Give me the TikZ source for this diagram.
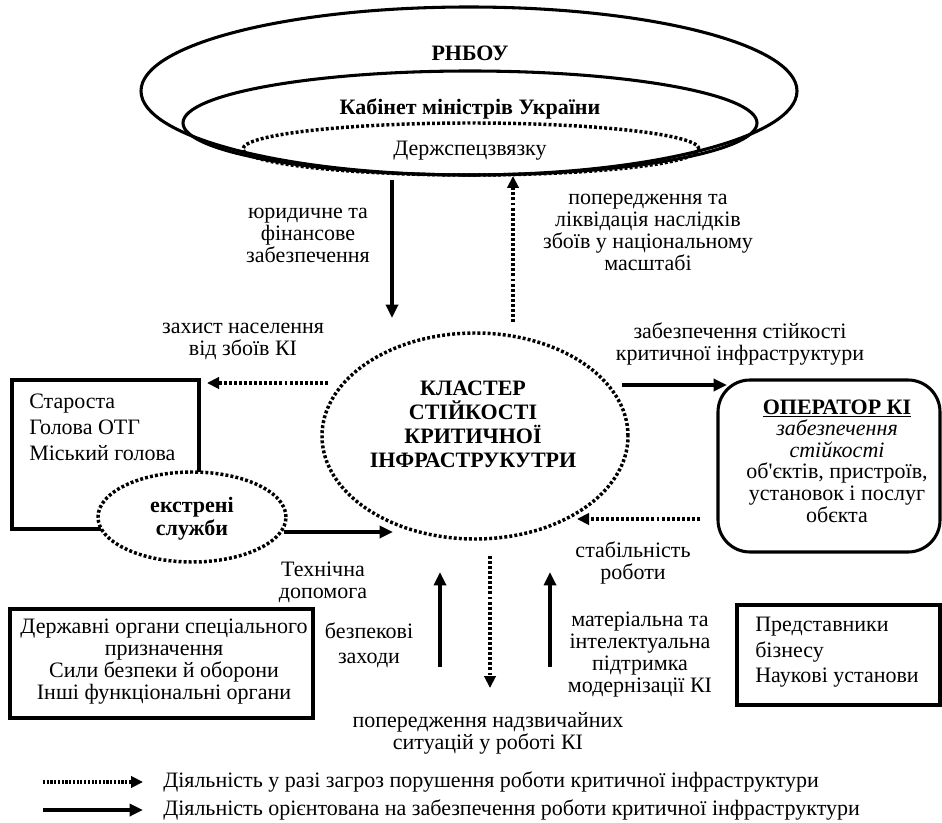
\documentclass[tikz,border=0pt]{standalone}
\usepackage{fontspec}
\setmainfont{Liberation Serif}
\usetikzlibrary{shapes.geometric,arrows.meta}
\tikzset{
  base/.style={font=\fontsize{16.5}{16.5}\selectfont, inner sep=0pt, align=center},
  bld/.style={base, font=\fontsize{16.5}{17}\selectfont\bfseries},
  lbl/.style={base},
  solidline/.style={line width=2.3pt},
  dotline/.style={line width=2.6pt, dash pattern=on 2.2pt off 1.6pt},
  ell/.style={ellipse, draw, inner sep=0pt},
  solidarrow/.style={line width=2.6pt, -{Triangle[length=10pt,width=9pt]}},
  dotarrow/.style={dotline, -{Triangle[length=9pt,width=8.5pt]}},
  boxnode/.style={rectangle, draw, line width=2.3pt, inner sep=0pt},
}
\begin{document}
\begin{tikzpicture}[x=0.75pt,y=-0.75pt]
\useasboundingbox (0,0) rectangle (942,823);
% top ellipses
\node[ell, solidline, minimum width=492pt, minimum height=126pt] (rnbo) at (469,91) {};
\node[ell, solidline, minimum width=430.5pt, minimum height=78pt] (kmu) at (470,123) {};
\node[ell, dotline, minimum width=342pt, minimum height=39pt] (dssz) at (471,149) {};
\node[bld] (trnbo) at (470,53) {РНБОУ};
\node[bld] (tkmu) at (470,109) {Кабінет міністрів України};
\node[base] (tdssz) at (470,151) {Держспецзвязку};

% cluster
\node[ell, dotline, minimum width=229.5pt, minimum height=154.5pt] (cl) at (475,436) {};
\node[bld, font=\fontsize{16.5}{18}\selectfont\bfseries] (tcl) at (473,424) {КЛАСТЕР\\СТІЙКОСТІ\\КРИТИЧНОЇ\\ІНФРАСТРУКУТРИ};

% left box + emergency services
\node[boxnode, minimum width=140.25pt, minimum height=111.75pt] (star) at (105.5,454.5) {};
\node[base, align=left, anchor=north west, font=\fontsize{16.5}{19.5}\selectfont] (tstar) at (29,394) {Староста\\Голова ОТГ\\Міський голова};
\node[ell, dotline, fill=white, minimum width=141pt, minimum height=67.5pt] (ekst) at (192,517) {};
\node[bld] (tekst) at (192,519) {екстрені\\служби};

% operator
\node[rectangle, draw, line width=2.3pt, rounded corners=24pt, minimum width=166.5pt, minimum height=129pt] (oper) at (829,466) {};
\node[base, font=\fontsize{16.5}{16.2}\selectfont] (toper) at (837,461) {{\bfseries\underline{ОПЕРАТОР КІ}}\\\textit{забезпечення}\\\textit{стійкості}\\об\textquotesingle єктів, пристроїв,\\установок і послуг\\обєкта};

% bottom boxes
\node[boxnode, minimum width=227.25pt, minimum height=81.75pt] (derj) at (161.5,663.5) {};
\node[base] (tderj) at (164,662) {Державні органи спеціального\\призначення\\Сили безпеки й оборони\\Інші функціональні органи};
\node[boxnode, minimum width=152.25pt, minimum height=75pt] (biz) at (838.5,655) {};
\node[base, align=left, anchor=north west, font=\fontsize{16.5}{19}\selectfont] (tbiz) at (755,617) {Представники\\бізнесу\\Наукові установи};

% labels
\node[lbl] (l1) at (308,235) {юридичне та\\фінансове\\забезпечення};
\node[lbl] (l2) at (648,232) {попередження та\\ліквідація наслідків\\збоїв у національному\\масштабі};
\node[lbl] (l3) at (243,341) {захист населення\\від збоїв КІ};
\node[lbl] (l4) at (740,344) {забезпечення стійкості\\критичної інфраструктури};
\node[lbl] (l5) at (323,582) {Технічна\\допомога};
\node[lbl] (l6) at (633,563) {стабільність\\роботи};
\node[lbl, font=\fontsize{16.5}{19}\selectfont] (l7) at (369,645) {безпекові\\заходи};
\node[lbl] (l8) at (640,655) {матеріальна та\\інтелектуальна\\підтримка\\модернізації КІ};
\node[lbl] (l9) at (488,733) {попередження надзвичайних\\ситуацій у роботі КІ};

% arrow endpoints
\coordinate (a1s) at (392,180); \coordinate (a1e) at (392,318);
\coordinate (a2s) at (513,322); \coordinate (a2e) at (513,176);
\coordinate (a3s) at (328,383); \coordinate (a3e) at (207,383);
\coordinate (a4s) at (284,532); \coordinate (a4e) at (393,532);
\coordinate (a5s) at (622,385); \coordinate (a5e) at (727,385);
\coordinate (a6s) at (700,519); \coordinate (a6e) at (577,519);
\coordinate (a7s) at (440,667); \coordinate (a7e) at (440,572);
\coordinate (a8s) at (490,556); \coordinate (a8e) at (490,688);
\coordinate (a9s) at (550,667); \coordinate (a9e) at (550,572);
\draw[solidarrow] (a1s) -- (a1e);
\draw[dotarrow] (a2s) -- (a2e);
\draw[dotarrow] (a3s) -- (a3e);
\draw[solidarrow] (a4s) -- (a4e);
\draw[solidarrow] (a5s) -- (a5e);
\draw[dotarrow] (a6s) -- (a6e);
\draw[solidarrow] (a7s) -- (a7e);
\draw[dotarrow] (a8s) -- (a8e);
\draw[solidarrow] (a9s) -- (a9e);

% legend
\coordinate (g1s) at (43,782); \coordinate (g1e) at (143,782);
\coordinate (g2s) at (43,810); \coordinate (g2e) at (143,810);
\draw[line width=2.3pt, dash pattern=on 1.6pt off 1.2pt, -{Triangle[length=9pt,width=8.5pt]}] (g1s) -- (g1e);
\draw[solidarrow] (g2s) -- (g2e);
\node[base, anchor=west] (tg1) at (163,782) {Діяльність у разі загроз порушення роботи критичної інфраструктури};
\node[base, anchor=west] (tg2) at (163,810) {Діяльність орієнтована на забезпечення роботи критичної інфраструктури};
\end{tikzpicture}
\end{document}
